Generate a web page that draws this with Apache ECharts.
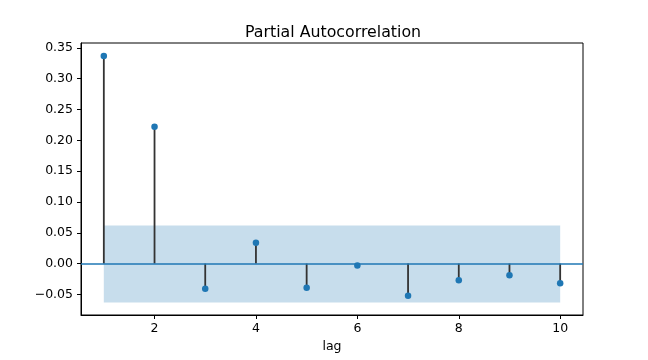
<!DOCTYPE html>
<html><head><meta charset="utf-8">
<script src="https://cdn.jsdelivr.net/npm/echarts@6/dist/echarts.min.js"></script>
<style>html,body{margin:0;padding:0;background:#fff}#c{width:648px;height:360px}</style>
</head><body><div id="c"></div>
<script>
const lags = [1,2,3,4,5,6,7,8,9,10];
const pacf = [0.337,0.222,-0.041,0.034,-0.039,-0.003,-0.052,-0.027,-0.019,-0.032];
const confUpper = 0.062;
const confLower = -0.063;
const xTicks = [2,4,6,8,10];
const yTicks = [-0.05,0,0.05,0.10,0.15,0.20,0.25,0.30,0.35];

const font = 'DejaVu Sans';
const chart = echarts.init(document.getElementById('c'), null, {renderer:'canvas'});
const stemData = lags.map((l,i)=>[l,pacf[i]]);
chart.setOption({
  animation:false,
  title:{text:'Partial Autocorrelation',left:245,top:24.5,padding:0,
    textStyle:{fontFamily:font,fontSize:15.8,fontWeight:'normal',color:'#000'}},
  grid:{left:81,right:65,top:43,bottom:45,show:true,borderColor:'#000',borderWidth:1,backgroundColor:'transparent'},
  xAxis:{type:'value',min:0.55,max:10.45,name:'lag',nameLocation:'middle',nameGap:25,
    nameTextStyle:{fontFamily:font,fontSize:12.5,color:'#000'},
    axisLine:{show:true,onZero:false,lineStyle:{color:'#000',width:1}},
    axisTick:{show:true,length:4,lineStyle:{color:'#000'},customValues:xTicks},
    axisLabel:{fontFamily:font,fontSize:12.5,color:'#000',margin:7,customValues:xTicks,formatter:v=>String(v)},
    splitLine:{show:false}},
  yAxis:{type:'value',min:-0.0834,max:0.358,
    axisLine:{show:true,onZero:false,lineStyle:{color:'#000',width:1}},
    axisTick:{show:true,length:4,lineStyle:{color:'#000'},customValues:yTicks},
    axisLabel:{fontFamily:font,fontSize:12.5,color:'#000',margin:8,customValues:yTicks,
      formatter:v=>{const s=Math.abs(v).toFixed(2);return v< -1e-9?'\u2212'+s:s;}},
    splitLine:{show:false}},
  series:[
    {type:'custom',z:1,silent:true,
      data:[[lags[0],lags[lags.length-1],confLower,confUpper]],
      renderItem:(p,api)=>{
        const a=api.coord([api.value(0),api.value(3)]);
        const b=api.coord([api.value(1),api.value(2)]);
        return {type:'rect',shape:{x:a[0],y:a[1],width:b[0]-a[0],height:b[1]-a[1]},
          style:{fill:'rgba(31,119,180,0.25)'}};
      }},
    {type:'custom',z:3,silent:true,data:stemData,
      renderItem:(p,api)=>{
        const a=api.coord([api.value(0),0]);
        const b=api.coord([api.value(0),api.value(1)]);
        return {type:'line',shape:{x1:a[0],y1:a[1],x2:b[0],y2:b[1]},
          style:{stroke:'#333',lineWidth:1.8}};
      },
      markLine:{silent:true,symbol:'none',label:{show:false},
        lineStyle:{color:'#1f77b4',width:1.6,type:'solid'},
        data:[{yAxis:0}]}},
    {type:'scatter',z:5,data:stemData,symbol:'circle',symbolSize:6.5,
      itemStyle:{color:'#1f77b4',opacity:1}}
  ]
});
</script></body></html>
